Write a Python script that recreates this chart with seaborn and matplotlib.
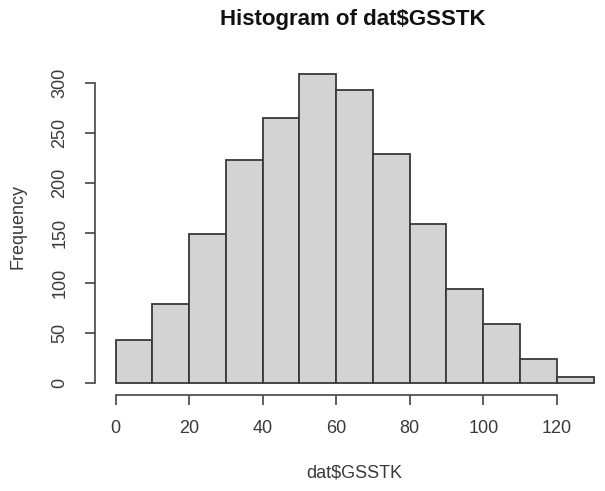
import numpy as np
import matplotlib
matplotlib.use("Agg")
import matplotlib.pyplot as plt
import seaborn as sns

# counts per 10-wide bin
bin_edges = [0, 10, 20, 30, 40, 50, 60, 70, 80, 90, 100, 110, 120, 130]
counts = [43, 79, 149, 223, 265, 309, 293, 229, 159, 94, 59, 24, 6]
x_ticks = [0, 20, 40, 60, 80, 100, 120]
y_ticks = [0, 50, 100, 150, 200, 250, 300]

sns.set_theme(style="white")
plt.rcParams["font.family"] = ["Liberation Sans", "DejaVu Sans"]

W, H = 605, 491
fig = plt.figure(figsize=(W / 100, H / 100), dpi=100)
ax = fig.add_axes([95 / W, (H - 395) / H, 510 / W, (395 - 61.6) / H])

mids = [(a + b) / 2 for a, b in zip(bin_edges[:-1], bin_edges[1:])]
sns.histplot(x=mids, weights=counts, bins=bin_edges, color="#D3D3D3",
             edgecolor="#383838", linewidth=1.3, alpha=1, ax=ax)

ax.set_xlim(-5.58, 133.1)
ax.set_ylim(-12.36, 321.4)
ax.set_xticks(x_ticks)
ax.set_yticks(y_ticks)
ax.set_xlabel("")
ax.set_ylabel("")

for s in ["top", "right"]:
    ax.spines[s].set_visible(False)
ax.spines["left"].set_bounds(0, 300)
ax.spines["bottom"].set_bounds(0, 120)
for s in ["left", "bottom"]:
    ax.spines[s].set_color("#444444")
    ax.spines[s].set_linewidth(1.2)

ax.tick_params(axis="both", length=7.2, width=1.2, color="#444444",
               labelsize=13, labelcolor="#3a3a3a", bottom=True, left=True)
ax.tick_params(axis="x", pad=11)
ax.tick_params(axis="y", pad=12, labelrotation=90)
for lab in ax.get_yticklabels():
    lab.set_va("center")

fig.text(353 / W, 1 - 20 / H, "Histogram of dat$GSSTK", ha="center", va="center",
         fontsize=16, fontweight="bold", color="#111111")
fig.text(354 / W, 1 - 473 / H, "dat$GSSTK", ha="center", va="center",
         fontsize=13, color="#3a3a3a")
fig.text(18 / W, 1 - 226.5 / H, "Frequency", ha="center", va="center",
         rotation=90, fontsize=13, color="#3a3a3a")

fig.savefig("out.png", dpi=100)
